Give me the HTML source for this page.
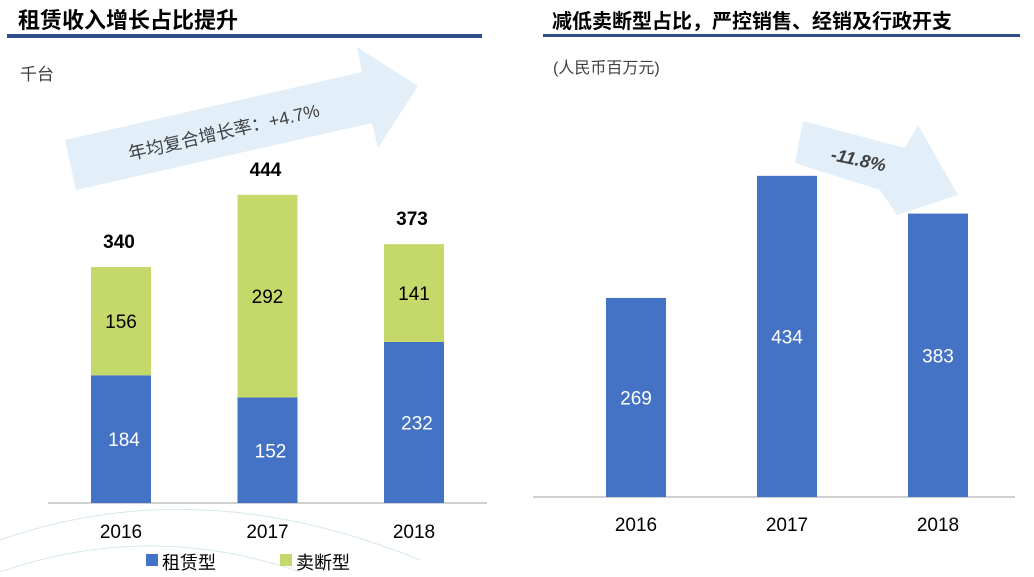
<!DOCTYPE html>
<html><head><meta charset="utf-8"><style>
body{margin:0;width:1034px;height:572px;background:#fff;overflow:hidden;font-family:"Liberation Sans","Noto Sans CJK SC",sans-serif;}
</style></head><body>
<svg width="1034" height="572" xmlns="http://www.w3.org/2000/svg" font-family="Liberation Sans, Noto Sans CJK SC, sans-serif">
<path d="M0,540 Q200,470 420,560" stroke="#d6e6ec" fill="none"/>
<path d="M0,572 Q150,520 300,572" stroke="#d6e6ec" fill="none"/>
<text x="18" y="28" font-size="22" font-weight="bold" fill="#000">租赁收入增长占比提升</text>
<rect x="7" y="34" width="475" height="4" fill="#2f4e8a"/>
<text x="20" y="80" font-size="17" fill="#404040">千台</text>
<polygon points="65,140 362,72 357,47 418,86 378,148 372,123 76,190" fill="#e2eff9"/>
<text x="0" y="0" font-size="18" fill="#404040" transform="translate(130,160) rotate(-13)">年均复合增长率：+4.7%</text>
<text x="552" y="28" font-size="20" font-weight="bold" fill="#000">减低卖断型占比，严控销售、经销及行政开支</text>
<rect x="543" y="34" width="477" height="3" fill="#2f4e8a"/>
<text x="553" y="73" font-size="16" fill="#404040">(人民币百万元)</text>
<polygon points="795,163 880,190 897,215 958,195 918,125 905,148 803,121" fill="#e2eff9"/>
<text x="0" y="0" font-size="18" font-weight="bold" font-style="italic" fill="#404040" transform="translate(830,160) rotate(12)">-11.8%</text>
<g id="left"></g>
<g id="right"></g>
<rect x="146" y="554" width="12" height="12" fill="#4472c4"/>
<text x="162" y="569" font-size="18" fill="#000">租赁型</text>
<rect x="280" y="554" width="12" height="12" fill="#c5d96a"/>
<text x="296" y="569" font-size="18" fill="#000">卖断型</text>
</svg>
<script>
const years=["2016","2017","2018"];
const lease=[184,152,232];
const sale=[156,292,141];
const expense=[269,434,383];
const NS="http://www.w3.org/2000/svg";
function mk(p,t,a){const e=document.createElementNS(NS,t);for(const k in a)e.setAttribute(k,a[k]);p.appendChild(e);return e;}
const L=document.getElementById('left'),R=document.getElementById('right');
const lBase=503,lK=0.694,lX=i=>121+i*146.5;
const rBase=497,rK=0.74,rX=i=>636+i*151;
let ax=mk(L,'line',{x1:48,x2:487,y1:lBase,y2:lBase,stroke:'#a0a0a0'});


years.forEach((y,i)=>{
 const cx=lX(i),h1=lease[i]*lK,h2=sale[i]*lK,tot=lease[i]+sale[i];
 let b=mk(L,'rect',{x:cx-30,y:lBase-h1,width:60,height:h1,fill:'#4472c4'});
 
 
 let s=mk(L,'rect',{x:cx-30,y:lBase-h1-h2,width:60,height:h2,fill:'#c5d96a'});
 
 
 let t=mk(L,'text',{x:cx+3,y:lBase-h1/2+7,'font-size':19,fill:'#fff','text-anchor':'middle'});t.textContent=lease[i];
 
 
 let t2=mk(L,'text',{x:cx,y:lBase-h1-h2/2+7,'font-size':19,fill:'#000','text-anchor':'middle'});t2.textContent=sale[i];
 
 
 let t3=mk(L,'text',{x:cx-2,y:lBase-tot*lK-19,'font-size':19,'font-weight':'bold',fill:'#000','text-anchor':'middle'});t3.textContent=tot;
 
 
 let tk=mk(L,'text',{x:cx,y:538,'font-size':19,fill:'#000','text-anchor':'middle'});tk.textContent=y;
 
 
});
let ax2=mk(R,'line',{x1:533,x2:1015,y1:rBase,y2:rBase,stroke:'#a0a0a0'});


years.forEach((y,i)=>{
 const cx=rX(i),h=expense[i]*rK;
 let b=mk(R,'rect',{x:cx-30,y:rBase-h,width:60,height:h,fill:'#4472c4'});
 
 
 let t=mk(R,'text',{x:cx,y:rBase-h/2+7,'font-size':19,fill:'#fff','text-anchor':'middle'});t.textContent=expense[i];
 
 
 let tk=mk(R,'text',{x:cx,y:531,'font-size':19,fill:'#000','text-anchor':'middle'});tk.textContent=y;
 
 
});
</script>
</body></html>
